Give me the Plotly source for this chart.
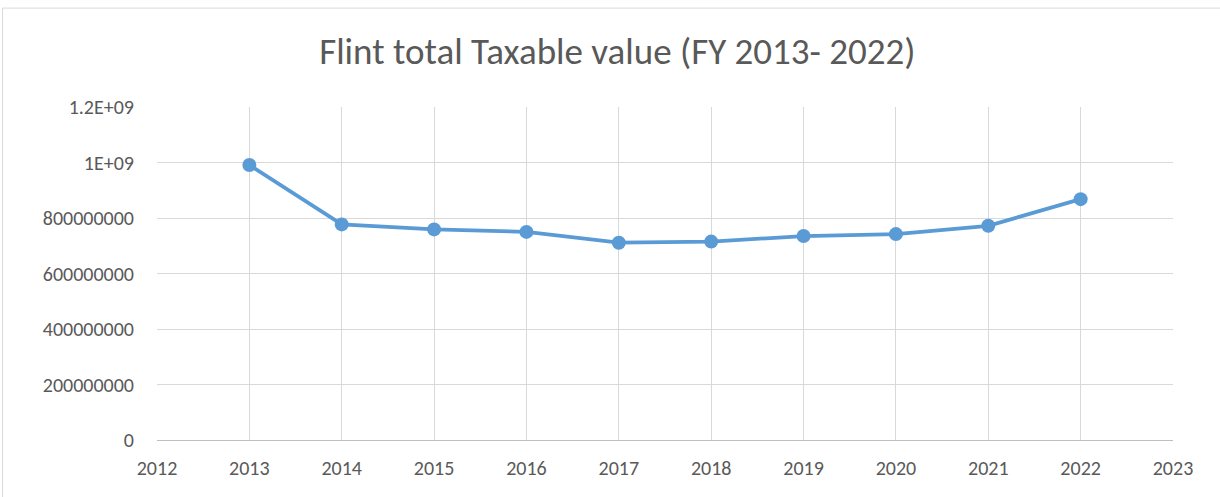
import plotly.graph_objects as go

years = [2013, 2014, 2015, 2016, 2017, 2018, 2019, 2020, 2021, 2022]
taxable_value = [991e6, 777e6, 759e6, 750e6, 711e6, 715e6, 735e6, 742e6, 772e6, 868e6]
y_tickvals = [0, 200e6, 400e6, 600e6, 800e6, 1000e6, 1200e6]
y_ticktext = ["0", "200000000", "400000000", "600000000", "800000000", "1E+09", "1.2E+09"]
x_tickvals = list(range(2012, 2024))

fig = go.Figure()
fig.add_trace(go.Scatter(
    x=years, y=taxable_value, mode="lines+markers",
    line=dict(color="#5B9BD5", width=3.8),
    marker=dict(color="#5B9BD5", size=14),
    showlegend=False, cliponaxis=False,
))

font_family = "Carlito, Calibri, 'Open Sans', 'Liberation Sans', sans-serif"
fig.update_layout(
    width=1220, height=497,
    margin=dict(l=157, r=47, t=107, b=57),
    paper_bgcolor="white", plot_bgcolor="white",
    font=dict(family=font_family, color="#595959", size=20),
    title=dict(text="Flint total Taxable value (FY 2013- 2022)",
               x=0.506, xref="container", xanchor="center",
               y=1 - 51/497, yref="container", yanchor="middle",
               font=dict(size=37, color="#595959", family=font_family)),
    xaxis=dict(range=[2012, 2023], tickvals=x_tickvals,
               showgrid=True, gridcolor="#D9D9D9", gridwidth=1,
               showline=True, linecolor="#BFBFBF", linewidth=1,
               zeroline=False, ticks="", ticklen=0,
               ticklabelstandoff=10,
               tickfont=dict(size=20, color="#595959")),
    yaxis=dict(range=[0, 1.2e9], tickvals=y_tickvals, ticktext=y_ticktext,
               showgrid=True, gridcolor="#D9D9D9", gridwidth=1,
               zeroline=False, showline=False, ticks="",
               ticklabelstandoff=22,
               tickfont=dict(size=20, color="#595959")),
)

# outer chart border
fig.add_shape(type="rect", xref="paper", yref="paper",
              x0=-0.152, x1=1.05, y0=-0.5, y1=1.297,
              line=dict(color="#D9D9D9", width=1), layer="below")

fig.write_html("out.html", config={"displayModeBar": False},
               post_script="document.body.style.margin='0';document.body.style.overflow='hidden';")
